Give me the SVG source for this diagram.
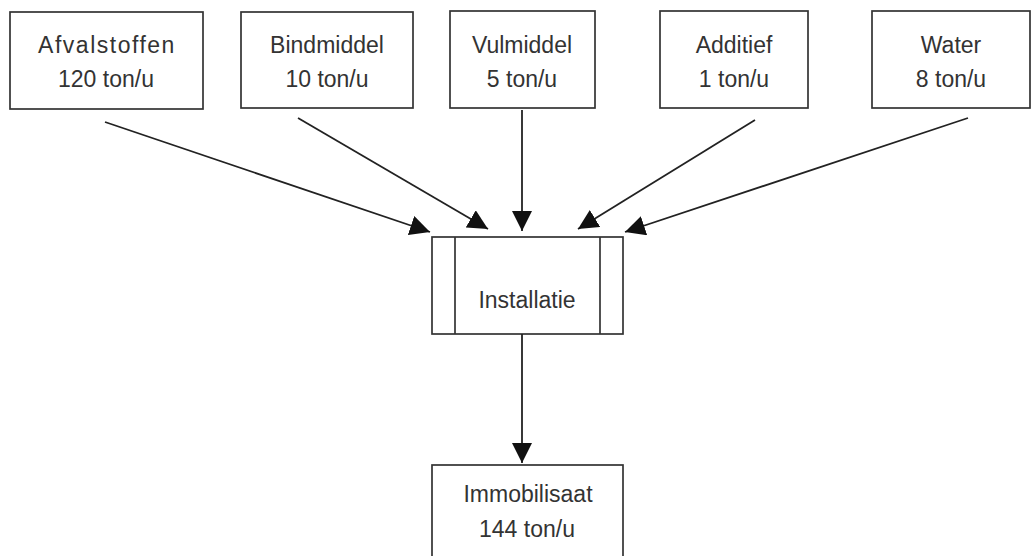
<svg xmlns="http://www.w3.org/2000/svg" width="1036" height="556" viewBox="0 0 1036 556">
<style>
.box{fill:#fff;stroke:#333;stroke-width:1.7}
.t{font-family:"Liberation Sans",Arial,sans-serif;font-size:23px;fill:#333;text-anchor:middle}
.c{stroke:#222;stroke-width:1.8;fill:none;marker-end:url(#ah)}
</style>
<defs>
<marker id="ah" markerUnits="userSpaceOnUse" markerWidth="22" markerHeight="20" refX="20" refY="10" orient="auto">
<path d="M0,0 L20,10 L0,20 Z" fill="#111"/>
</marker>
</defs>
<rect width="1036" height="556" fill="#fff"/>
<g id="afvalstoffen">
<rect class="box" x="10" y="12" width="193" height="97"/>
<text class="t" x="107" y="53" letter-spacing="1.5">Afvalstoffen</text>
<text class="t" x="106" y="87">120 ton/u</text>
</g>
<g id="bindmiddel">
<rect class="box" x="241" y="12" width="172" height="96"/>
<text class="t" x="327" y="53">Bindmiddel</text>
<text class="t" x="327" y="87">10 ton/u</text>
</g>
<g id="vulmiddel">
<rect class="box" x="450" y="11" width="145" height="97"/>
<text class="t" x="522" y="53">Vulmiddel</text>
<text class="t" x="522" y="87">5 ton/u</text>
</g>
<g id="additief">
<rect class="box" x="660" y="11" width="148" height="97"/>
<text class="t" x="734" y="53">Additief</text>
<text class="t" x="734" y="87">1 ton/u</text>
</g>
<g id="water">
<rect class="box" x="872" y="11" width="158" height="97"/>
<text class="t" x="951" y="53">Water</text>
<text class="t" x="951" y="87">8 ton/u</text>
</g>
<g id="installatie">
<rect class="box" x="432" y="237" width="191" height="97"/>
<line x1="455" y1="237" x2="455" y2="334" stroke="#333" stroke-width="1.7"/>
<line x1="600" y1="237" x2="600" y2="334" stroke="#333" stroke-width="1.7"/>
<text class="t" x="527" y="308">Installatie</text>
</g>
<g id="immobilisaat">
<rect class="box" x="432" y="465" width="191" height="100"/>
<text class="t" x="528" y="502">Immobilisaat</text>
<text class="t" x="527" y="537">144 ton/u</text>
</g>
<g id="connectors">
<line class="c" x1="105" y1="122" x2="430" y2="232"/>
<line class="c" x1="298" y1="118" x2="488" y2="229"/>
<line class="c" x1="522" y1="110" x2="522" y2="231"/>
<line class="c" x1="755" y1="120" x2="578" y2="229"/>
<line class="c" x1="968" y1="118" x2="625" y2="232"/>
<line class="c" x1="522" y1="334" x2="522" y2="463"/>
</g>
</svg>
